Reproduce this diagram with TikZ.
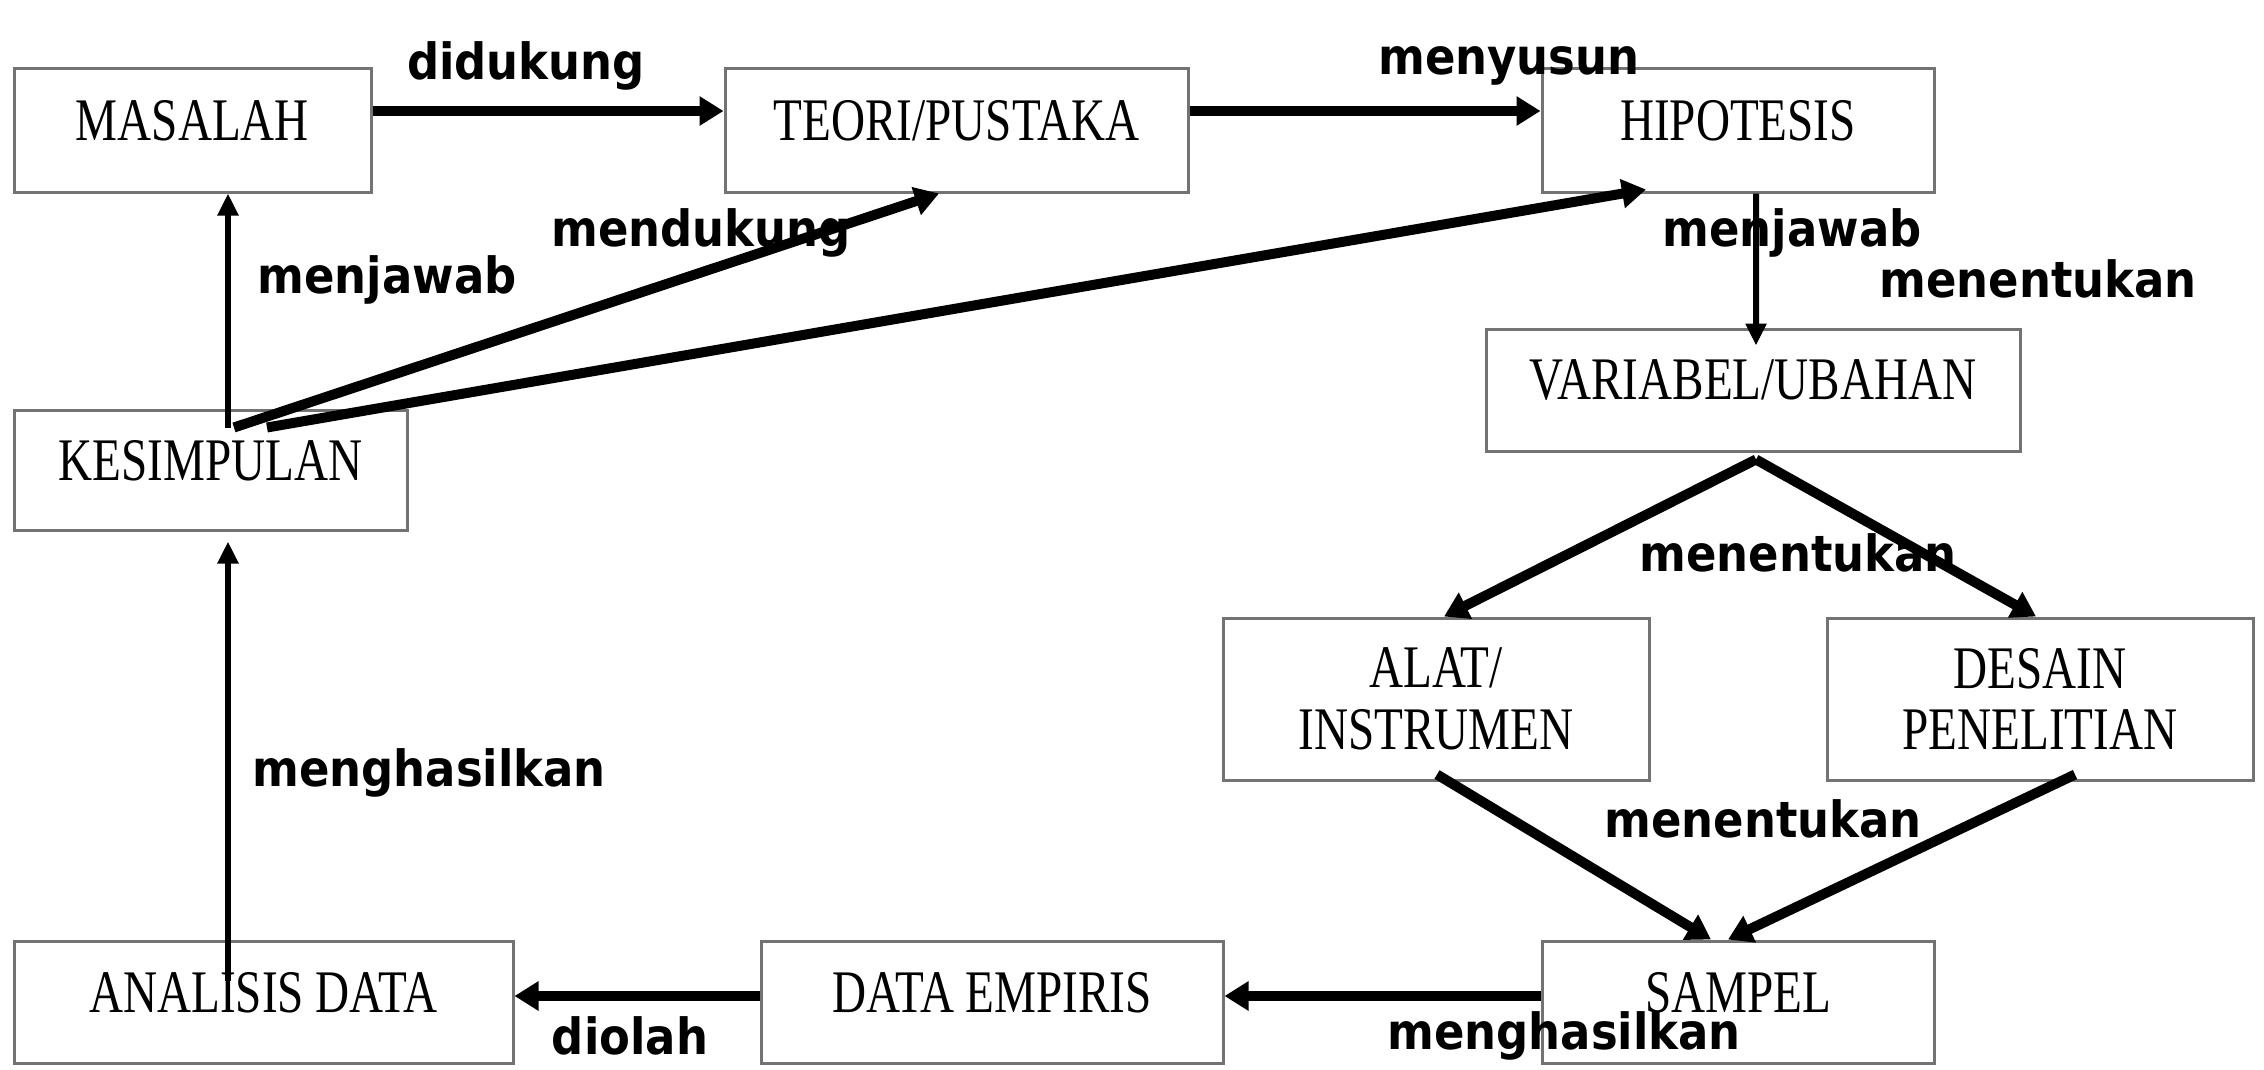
\documentclass[tikz,border=0pt]{standalone}
\usepackage{fontspec}
\setmainfont{Liberation Serif}[FakeStretch=0.78]
\newfontfamily\lblfont{DejaVu Sans}[FakeStretch=0.9]
\usetikzlibrary{arrows.meta}
\begin{document}
\begin{tikzpicture}[x=0.1mm, y=-0.1mm,
    box/.style={draw=black!55, line width=0.3mm, align=center, inner sep=0pt,
      font=\fontsize{17.2}{17.5}\selectfont},
    onebox/.style={box, text depth=2mm},
    lbl/.style={font=\lblfont\bfseries\fontsize{14.2}{17}\selectfont, inner sep=0pt},
    fat/.style={line width=1mm, -{Triangle[length=2.4mm,width=2.8mm]}},
    slim/.style={line width=0.6mm, -{Triangle[length=2.2mm,width=2mm]}}]

  % Frame, same size as the reference
  \useasboundingbox (0,0) rectangle (2264,1070);

  % Boxes
  \node[onebox, minimum width=35.7mm, minimum height=12.4mm] (mas) at (192.5,130) {MASALAH};
  \node[onebox, minimum width=46.3mm, minimum height=12.4mm] (teo) at (956.5,130) {TEORI/PUSTAKA};
  \node[onebox, minimum width=39.2mm, minimum height=12.4mm] (hip) at (1738,130) {HIPOTESIS};
  \node[onebox, minimum width=53.4mm, minimum height=12.2mm] (var) at (1753,390) {VARIABEL/UBAHAN};
  \node[onebox, minimum width=39.3mm, minimum height=12mm] (kes) at (210.5,470) {KESIMPULAN};
  \node[box, minimum width=42.6mm, minimum height=16.2mm] (alat) at (1436,699) {ALAT/\\INSTRUMEN};
  \node[box, minimum width=42.6mm, minimum height=16.2mm] (des) at (2040,699) {DESAIN\\PENELITIAN};
  \node[onebox, minimum width=49.9mm, minimum height=12.2mm] (ana) at (263.5,1002) {ANALISIS DATA};
  \node[onebox, minimum width=46.2mm, minimum height=12.2mm] (emp) at (992,1002) {DATA EMPIRIS};
  \node[onebox, minimum width=39.2mm, minimum height=12.2mm] (sam) at (1738,1002) {SAMPEL};

  % Labels
  \node[lbl] (t-didukung) at (526,66) {didukung};
  \node[lbl] (t-menyusun) at (1509,66) {menyusun};
  \node[lbl] (t-mendukung) at (701,233) {mendukung};
  \node[lbl] (t-jawab1) at (387,280) {menjawab};
  \node[lbl] (t-jawab2) at (1792,233) {menjawab};
  \node[lbl] (t-tentu1) at (2038,279) {menentukan};
  \node[lbl] (t-tentu2) at (1798,553) {menentukan};
  \node[lbl] (t-tentu3) at (1763,819) {menentukan};
  \node[lbl] (t-hasil1) at (429,773) {menghasilkan};
  \node[lbl] (t-diolah) at (630,1036) {diolah};
  \node[lbl] (t-hasil2) at (1564,1036) {menghasilkan};

  % Top row
  \draw[fat] ([yshift=1.9mm]mas.east) -- ([yshift=1.9mm]teo.west);
  \draw[fat] ([yshift=1.9mm]teo.east) -- ([yshift=1.9mm]hip.west);

  % From KESIMPULAN
  \coordinate (kes-a) at ([xshift=1.75mm,yshift=-1.9mm]kes.north);
  \coordinate (kes-b) at ([xshift=5.65mm,yshift=-1.9mm]kes.north);
  \draw[slim] (kes-a) -- (kes-a |- mas.south);
  \draw[fat] ([xshift=0.6mm]kes-a) -- ([xshift=-1.75mm]teo.south);
  \draw[fat] (kes-b) -- ([xshift=-9.2mm,yshift=0.4mm]hip.south);

  % Right column
  \draw[slim] ([xshift=1.8mm]hip.south) -- ([xshift=0.3mm,yshift=-1.8mm]var.north);
  \coordinate (var-a) at ([xshift=0.3mm,yshift=-0.7mm]var.south);
  \draw[fat] (var-a) -- ([xshift=0.8mm]alat.north);
  \draw[fat] (var-a) -- ([xshift=-0.4mm]des.north);
  \draw[fat] ([xshift=0.1mm,yshift=0.7mm]alat.south) -- ([xshift=-2.7mm]sam.north);
  \draw[fat] ([xshift=3.5mm,yshift=0.7mm]des.south) -- ([xshift=-1mm]sam.north);

  % Bottom row
  \draw[fat] ([yshift=0.6mm]sam.west) -- ([yshift=0.6mm]emp.east);
  \draw[fat] ([yshift=0.6mm]emp.west) -- ([yshift=0.6mm]ana.east);
  \coordinate (ana-a) at ([xshift=-3.55mm,yshift=-4.1mm]ana.north);
  \draw[slim, shorten >=1mm] (ana-a) -- (ana-a |- kes.south);
\end{tikzpicture}
\end{document}
